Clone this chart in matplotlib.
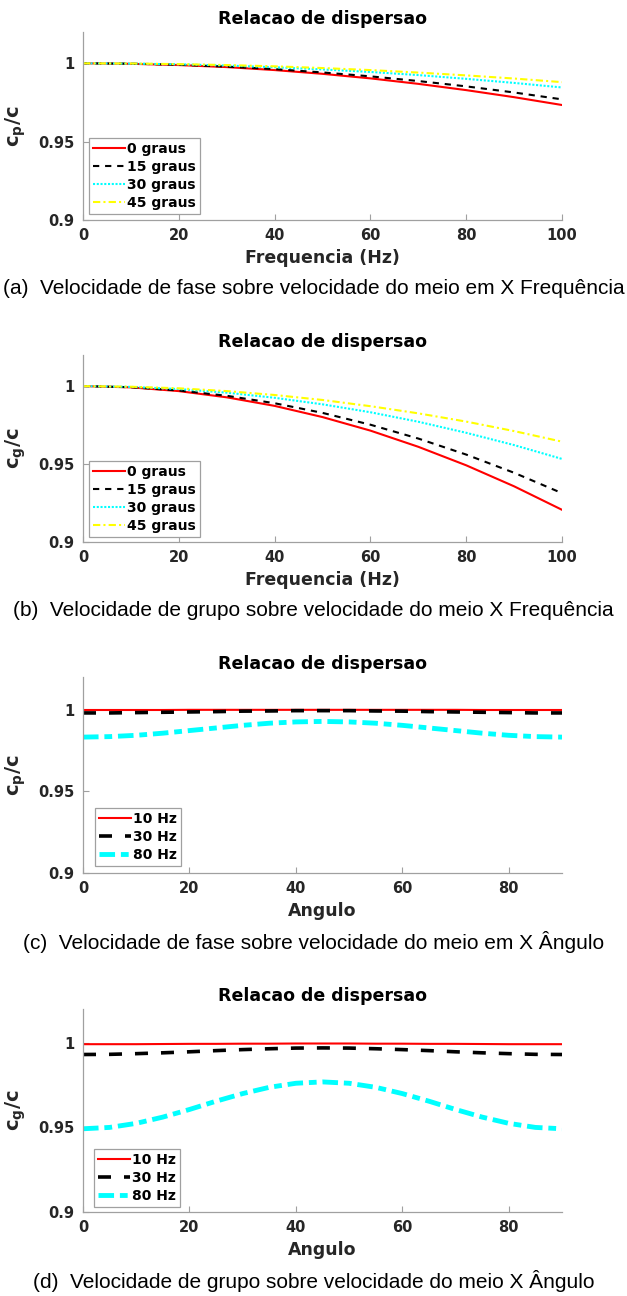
import matplotlib
matplotlib.use('Agg')
import matplotlib.pyplot as plt

# ---------------- data ----------------
freq = [0, 10, 20, 30, 40, 50, 60, 70, 80, 90, 100]
cp_freq_labels = ['0 graus', '15 graus', '30 graus', '45 graus']
cp_0 = [1.0, 0.9997, 0.9989, 0.9976, 0.9957, 0.9933, 0.9904, 0.9869, 0.9829, 0.9784, 0.9734]
cp_15 = [1.0, 0.9998, 0.9991, 0.9979, 0.9963, 0.9942, 0.9917, 0.9887, 0.9853, 0.9814, 0.9770]
cp_30 = [1.0, 0.9998, 0.9994, 0.9986, 0.9975, 0.9961, 0.9945, 0.9925, 0.9901, 0.9875, 0.9846]
cp_45 = [1.0, 0.9999, 0.9995, 0.9989, 0.9981, 0.9970, 0.9957, 0.9941, 0.9923, 0.9903, 0.9880]

cg_0 = [1.0, 0.9992, 0.9968, 0.9928, 0.9873, 0.9801, 0.9714, 0.9610, 0.9491, 0.9356, 0.9205]
cg_15 = [1.0, 0.9993, 0.9972, 0.9938, 0.9890, 0.9828, 0.9752, 0.9663, 0.9560, 0.9443, 0.9312]
cg_30 = [1.0, 0.9995, 0.9981, 0.9958, 0.9925, 0.9883, 0.9832, 0.9771, 0.9700, 0.9621, 0.9532]
cg_45 = [1.0, 0.9996, 0.9986, 0.9968, 0.9943, 0.9911, 0.9871, 0.9825, 0.9772, 0.9711, 0.9643]

ang = [0, 5, 10, 15, 20, 25, 30, 35, 40, 45, 50, 55, 60, 65, 70, 75, 80, 85, 90]
ang_labels = ['10 Hz', '30 Hz', '80 Hz']
cp_10hz = [0.9998, 0.9998, 0.9998, 0.9998, 0.9999, 0.9999, 0.9999, 0.9999, 0.9999, 0.9999,
           0.9999, 0.9999, 0.9999, 0.9999, 0.9999, 0.9998, 0.9998, 0.9998, 0.9998]
cp_30hz = [0.9980, 0.9980, 0.9982, 0.9984, 0.9986, 0.9988, 0.9991, 0.9992, 0.9994, 0.9994,
           0.9994, 0.9992, 0.9991, 0.9988, 0.9986, 0.9984, 0.9982, 0.9980, 0.9980]
cp_80hz = [0.9832, 0.9835, 0.9843, 0.9856, 0.9872, 0.9888, 0.9904, 0.9917, 0.9925, 0.9928,
           0.9925, 0.9917, 0.9904, 0.9888, 0.9872, 0.9856, 0.9843, 0.9835, 0.9832]

cg_10hz = [0.9992, 0.9992, 0.9992, 0.9993, 0.9994, 0.9994, 0.9995, 0.9995, 0.9996, 0.9996,
           0.9996, 0.9995, 0.9995, 0.9994, 0.9994, 0.9993, 0.9992, 0.9992, 0.9992]
cg_30hz = [0.9931, 0.9932, 0.9936, 0.9941, 0.9947, 0.9954, 0.9960, 0.9965, 0.9969, 0.9970,
           0.9969, 0.9965, 0.9960, 0.9954, 0.9947, 0.9941, 0.9936, 0.9932, 0.9931]
cg_80hz = [0.9492, 0.9500, 0.9524, 0.9561, 0.9606, 0.9655, 0.9700, 0.9737, 0.9761, 0.9769,
           0.9761, 0.9737, 0.9700, 0.9655, 0.9606, 0.9561, 0.9524, 0.9500, 0.9492]

yticks = [0.9, 0.95, 1.0]
ytick_labels = ['0.9', '0.95', '1']
freq_ticks = [0, 20, 40, 60, 80, 100]
ang_ticks = [0, 20, 40, 60, 80]

title = 'Relacao de dispersao'
captions = ['(a)  Velocidade de fase sobre velocidade do meio em X Frequência',
            '(b)  Velocidade de grupo sobre velocidade do meio X Frequência',
            '(c)  Velocidade de fase sobre velocidade do meio em X Ângulo',
            '(d)  Velocidade de grupo sobre velocidade do meio X Ângulo']

# ---------------- style ----------------
plt.rcParams['font.family'] = ['DejaVu Sans']
plt.rcParams['mathtext.fontset'] = 'dejavusans'

W, H = 627, 1296
fig = plt.figure(figsize=(W / 100, H / 100), dpi=100)

SPINE = '#a0a0a0'
TXT = '#262626'


def axes_px(top, bottom, left=83, right=562):
    return fig.add_axes([left / W, 1 - bottom / H, (right - left) / W, (bottom - top) / H])


def style(ax, xlim, xticks, xlabel, ylabel):
    ax.set_xlim(*xlim)
    ax.set_ylim(0.9, 1.02)
    ax.set_xticks(xticks)
    ax.set_yticks(yticks)
    ax.set_yticklabels(ytick_labels)
    for s in ['top', 'right']:
        ax.spines[s].set_visible(False)
    for s in ['left', 'bottom']:
        ax.spines[s].set_color(SPINE)
        ax.spines[s].set_linewidth(0.9)
    ax.tick_params(direction='in', length=4, width=0.8, color=SPINE,
                   labelcolor=TXT, labelsize=10.5, pad=6)
    for lab in ax.get_xticklabels() + ax.get_yticklabels():
        lab.set_fontweight('bold')
    ax.set_title(title, fontsize=12.5, fontweight='bold', pad=6)
    ax.set_xlabel(xlabel, fontsize=12.5, fontweight='bold', color=TXT, labelpad=4)
    ax.set_ylabel(ylabel, fontsize=14, color=TXT)
    ax.yaxis.set_label_coords(-0.115, 0.5)


def legend(ax, anchor):
    leg = ax.legend(loc='lower left', bbox_to_anchor=anchor, borderaxespad=0,
                    fancybox=False, framealpha=1, edgecolor=SPINE,
                    prop={'weight': 'bold', 'size': 10}, handlelength=2.3,
                    handletextpad=0.15, labelspacing=0.28, borderpad=0.3)
    leg.get_frame().set_linewidth(0.9)
    for t in leg.get_texts():
        t.set_color('black')


# Panel (a)
ax = axes_px(32, 220)
ax.plot(freq, cp_0, color='red', lw=1.5, label=cp_freq_labels[0])
ax.plot(freq, cp_15, color='black', lw=1.5, dashes=(3, 2.8), label=cp_freq_labels[1])
ax.plot(freq, cp_30, color='cyan', lw=1.5, dashes=(1, 0.8), label=cp_freq_labels[2])
ax.plot(freq, cp_45, color='yellow', lw=1.5, dashes=(3.5, 1.5, 1, 1.5), label=cp_freq_labels[3])
style(ax, (0, 100), freq_ticks, 'Frequencia (Hz)', r'$\mathbf{c_p/c}$')
legend(ax, (0.0125, 0.032))

# Panel (b)
ax = axes_px(355, 541.7)
ax.plot(freq, cg_0, color='red', lw=1.5, label=cp_freq_labels[0])
ax.plot(freq, cg_15, color='black', lw=1.5, dashes=(3, 2.8), label=cp_freq_labels[1])
ax.plot(freq, cg_30, color='cyan', lw=1.5, dashes=(1, 0.8), label=cp_freq_labels[2])
ax.plot(freq, cg_45, color='yellow', lw=1.5, dashes=(3.5, 1.5, 1, 1.5), label=cp_freq_labels[3])
style(ax, (0, 100), freq_ticks, 'Frequencia (Hz)', r'$\mathbf{c_g/c}$')
legend(ax, (0.0125, 0.025))

# Panel (c)
ax = axes_px(677, 873)
ax.plot(ang, cp_10hz, color='red', lw=1.5, label=ang_labels[0])
ax.plot(ang, cp_30hz, color='black', lw=2.6, dashes=(3.6, 3.6), label=ang_labels[1])
ax.plot(ang, cp_80hz, color='cyan', lw=3.5, dashes=(3.2, 1.2, 1.6, 1.2), label=ang_labels[2])
style(ax, (0, 90), ang_ticks, 'Angulo', r'$\mathbf{c_p/c}$')
legend(ax, (0.025, 0.035))

# Panel (d)
ax = axes_px(1009, 1212)
ax.plot(ang, cg_10hz, color='red', lw=1.5, label=ang_labels[0])
ax.plot(ang, cg_30hz, color='black', lw=2.6, dashes=(3.6, 3.6), label=ang_labels[1])
ax.plot(ang, cg_80hz, color='cyan', lw=3.5, dashes=(3.2, 1.2, 1.6, 1.2), label=ang_labels[2])
style(ax, (0, 90), ang_ticks, 'Angulo', r'$\mathbf{c_g/c}$')
legend(ax, (0.023, 0.025))

# Captions
cap_y = [288, 610, 942, 1281]
for cap, y in zip(captions, cap_y):
    fig.text(0.5, 1 - y / H, cap, ha='center', va='center',
             fontsize=15, family='Liberation Sans', color='black')

fig.savefig('out.png', dpi=100)
